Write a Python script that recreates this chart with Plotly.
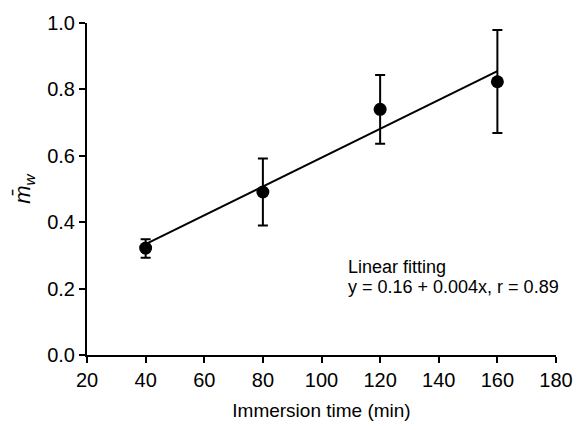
import plotly.graph_objects as go

time_min = [40, 80, 120, 160]
m_w = [0.322, 0.491, 0.740, 0.823]
err_plus = [0.027, 0.101, 0.103, 0.156]
err_minus = [0.029, 0.101, 0.104, 0.154]

fit_x = [40, 160]
fit_y = [0.334, 0.855]

x_ticks = [20, 40, 60, 80, 100, 120, 140, 160, 180]
y_ticks = [0.0, 0.2, 0.4, 0.6, 0.8, 1.0]

FONT = "Liberation Sans, Arial, sans-serif"

fig = go.Figure()
fig.add_trace(go.Scatter(
    x=fit_x, y=fit_y, mode="lines",
    line=dict(color="black", width=2), showlegend=False, hoverinfo="skip"))
fig.add_trace(go.Scatter(
    x=time_min, y=m_w, mode="markers",
    marker=dict(color="black", size=13),
    error_y=dict(type="data", symmetric=False, array=err_plus, arrayminus=err_minus,
                 color="black", thickness=2, width=5),
    showlegend=False))

fig.add_annotation(
    x=108.2, y=0.265, xref="x", yref="y", xanchor="left", yanchor="middle",
    text="Linear fitting", align="left",
    showarrow=False, font=dict(family=FONT, size=18, color="black"))
fig.add_annotation(
    x=108.2, y=0.205, xref="x", yref="y", xanchor="left", yanchor="middle",
    text="y = 0.16 + 0.004x, r = 0.89", align="left",
    showarrow=False, font=dict(family=FONT, size=18, color="black"))

fig.update_layout(
    width=585, height=430,
    margin=dict(l=87, r=19, t=17, b=75),
    paper_bgcolor="white", plot_bgcolor="white",
    font=dict(family=FONT, size=20, color="black"),
)
fig.update_xaxes(
    range=[20, 180], tickvals=x_ticks, ticktext=[str(v) for v in x_ticks],
    showline=True, linecolor="black", linewidth=2, ticks="outside", ticklen=6,
    tickwidth=2, tickcolor="black", showgrid=False, zeroline=False,
    tickfont=dict(size=20),
    title=dict(text="Immersion time (min)", font=dict(size=19), standoff=14))
fig.update_yaxes(
    range=[0, 1.0], tickvals=y_ticks, ticktext=[f"{v:.1f}" for v in y_ticks],
    showline=True, linecolor="black", linewidth=2, ticks="outside", ticklen=6,
    tickwidth=2, tickcolor="black", showgrid=False, zeroline=False,
    tickfont=dict(size=20),
    title=dict(text="<i>m\u0304<sub>w</sub></i>", font=dict(size=22), standoff=10))

fig.write_html("out.html")
